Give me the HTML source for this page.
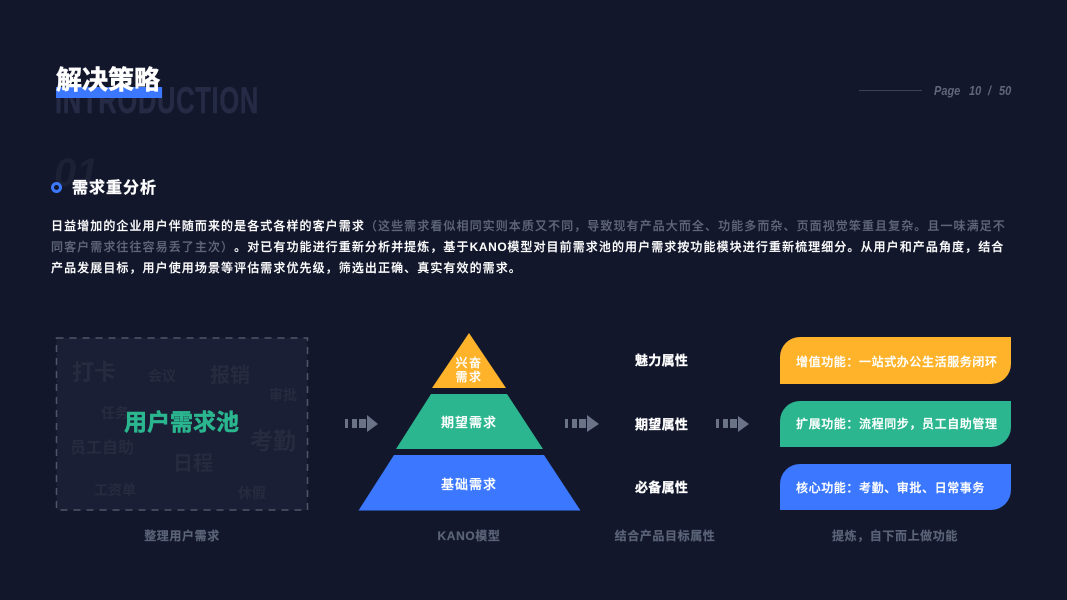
<!DOCTYPE html>
<html lang="zh"><head><meta charset="utf-8"><title>解决策略</title>
<style>
html,body{margin:0;padding:0;background:#12172c}
#s{position:relative;width:1067px;height:600px;overflow:hidden;background:#12172c;font-family:"Liberation Sans","Noto Sans CJK SC",sans-serif;color:#fff;text-spacing-trim:space-all}
.t{position:absolute;white-space:nowrap;line-height:1}
.b{font-weight:700}
.l{font-size:12px;font-weight:500;letter-spacing:1.08px;left:51px;-webkit-text-stroke:.15px}
.l b{letter-spacing:.6px;font-weight:700;-webkit-text-stroke:0}
.g{color:#5f6779}
.cap{font-size:12px;font-weight:700;color:#5a6378;letter-spacing:.6px;top:530px;text-align:center;-webkit-text-stroke:.2px}
.w{font-weight:700;color:#262b3f}
.attr{font-size:13px;font-weight:700;letter-spacing:.3px;left:635px;-webkit-text-stroke:.3px}
.card{position:absolute;left:780px;width:231px;border-radius:20px 0 20px 0}
.ct{font-size:12px;font-weight:500;letter-spacing:.6px;left:796px;-webkit-text-stroke:.25px}
.py{font-size:13px;font-weight:500;letter-spacing:1px;text-align:center;left:419px;width:100px;-webkit-text-stroke:.2px}
.pg{font-size:12.500px;font-weight:700;font-style:italic;color:#5f6779;top:85px;transform-origin:left top;transform:scaleX(.88)}
</style></head><body><div id="s">
<div class="t" style="left:55px;top:82px;font-family:'Liberation Sans',sans-serif;font-size:37px;font-weight:700;color:#262b45;letter-spacing:1px;transform-origin:left top;transform:scaleX(.69);-webkit-text-stroke:.6px">INTRODUCTION</div>
<div style="position:absolute;left:56px;top:87px;width:106px;height:11px;background:#3b78ff"></div>
<div class="t b" style="left:56px;top:67px;font-size:26px;-webkit-text-stroke:.6px">解决策略</div>
<div class="t" style="left:54px;top:153px;font-size:40px;font-weight:700;font-style:italic;color:#1c2136">01</div>
<div style="position:absolute;left:51px;top:182px;width:5px;height:5px;border:3px solid #3b78ff;border-radius:50%;background:#12172c"></div>
<div class="t b" style="left:72px;top:181px;font-size:16px;letter-spacing:1px;-webkit-text-stroke:.3px">需求重分析</div>

<div style="position:absolute;left:859px;top:90px;width:63px;height:1px;background:#3c4358"></div>
<div class="t pg" style="left:934px">Page</div>
<div class="t pg" style="left:968.500px">10</div>
<div class="t pg" style="left:988px">/</div>
<div class="t pg" style="left:999px">50</div>

<div class="t l" style="top:220px">日益增加的企业用户伴随而来的是各式各样的客户需求<span class="g">（这些需求看似相同实则本质又不同，导致现有产品大而全、功能多而杂、页面视觉笨重且复杂。且一味满足不</span></div>
<div class="t l" style="top:241px"><span class="g">同客户需求往往容易丢了主次）</span>。对已有功能进行重新分析并提炼，基于<b>KANO</b>模型对目前需求池的用户需求按功能模块进行重新梳理细分。从用户和产品角度，结合</div>
<div class="t l" style="top:262px">产品发展目标，用户使用场景等评估需求优先级，筛选出正确、真实有效的需求。</div>

<svg style="position:absolute;left:0;top:0" width="1067" height="600">
<rect x="56.500" y="338" width="251" height="172" fill="#1a1f35" stroke="#4f5568" stroke-width="1.5" stroke-dasharray="7 6"/>
</svg>
<div class="t w" style="left:72px;top:362px;font-size:22px">打卡</div>
<div class="t w" style="left:148px;top:369px;font-size:14px">会议</div>
<div class="t w" style="left:210px;top:366px;font-size:20px">报销</div>
<div class="t w" style="left:269px;top:388px;font-size:14px">审批</div>
<div class="t w" style="left:101px;top:406px;font-size:14px">任务</div>
<div class="t w" style="left:70px;top:441px;font-size:16px">员工自助</div>
<div class="t w" style="left:250px;top:430px;font-size:23px">考勤</div>
<div class="t w" style="left:173px;top:454px;font-size:20px">日程</div>
<div class="t w" style="left:94px;top:483px;font-size:14px">工资单</div>
<div class="t w" style="left:238px;top:486px;font-size:14px">休假</div>
<div class="t b" style="left:124px;top:411px;font-size:23px;color:#2bb68f;-webkit-text-stroke:.5px">用户需求池</div>
<div class="t cap" style="left:82px;width:200px">整理用户需求</div>

<svg style="position:absolute;left:0;top:0" width="1067" height="600">
<polygon points="469,333 506,388 432,388" fill="#ffb32a"/>
<polygon points="431,394 507,394 543,449 396,449" fill="#2bb68f"/>
<polygon points="394,455 544,455 580.5,510.500 358.500,510.500" fill="#3b78ff"/>
<g fill="#6b7388">
<rect x="345" y="419" width="3" height="9"/><rect x="352" y="419" width="5" height="9"/><rect x="359" y="419" width="7" height="9"/><polygon points="367,415 378,424 367,432"/>
<rect x="565" y="419" width="3" height="9"/><rect x="572" y="419" width="5" height="9"/><rect x="579" y="419" width="7" height="9"/><polygon points="587,415 599,424 587,432"/>
<rect x="716" y="419" width="3" height="9"/><rect x="723" y="419" width="5" height="9"/><rect x="730" y="419" width="7" height="9"/><polygon points="738,416 749,424 738,432"/>
</g></svg>
<div class="t py" style="top:357px;font-size:12px;letter-spacing:1.5px">兴奋</div>
<div class="t py" style="top:371px;font-size:12px;letter-spacing:1.5px">需求</div>
<div class="t py" style="top:416px">期望需求</div>
<div class="t py" style="top:478px">基础需求</div>
<div class="t cap" style="left:369px;width:200px">KANO模型</div>

<div class="t attr" style="top:354px">魅力属性</div>
<div class="t attr" style="top:418px">期望属性</div>
<div class="t attr" style="top:481px">必备属性</div>
<div class="t cap" style="left:565px;width:200px">结合产品目标属性</div>

<div class="card" style="top:337px;height:47px;background:#ffb32a"></div>
<div class="card" style="top:401px;height:46px;background:#2bb68f"></div>
<div class="card" style="top:464px;height:46px;background:#3b78ff"></div>
<div class="t ct" style="top:356px">增值功能：一站式办公生活服务闭环</div>
<div class="t ct" style="top:418px">扩展功能：流程同步，员工自助管理</div>
<div class="t ct" style="top:482px">核心功能：考勤、审批、日常事务</div>
<div class="t cap" style="left:795px;width:200px">提炼，自下而上做功能</div>
</div></body></html>
